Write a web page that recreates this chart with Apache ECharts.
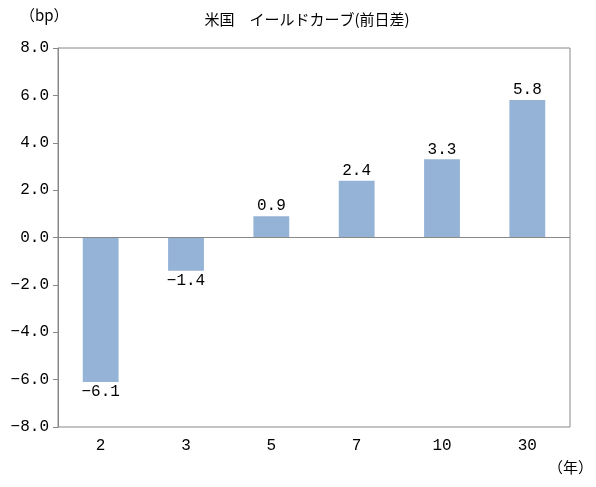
<!DOCTYPE html>
<html>
<head>
<meta charset="UTF-8">
<title>米国 イールドカーブ(前日差)</title>
<script type="text/javascript" src="https://cdn.jsdelivr.net/npm/echarts@6.0.0/dist/echarts.min.js"></script>
<style>
html, body { margin: 0; padding: 0; background: #fff; }
#chart { width: 596px; height: 487px; }
</style>
</head>
<body>
<div id="chart"></div>
<script type="text/javascript">
// 年限
var tenors = ["2", "3", "5", "7", "10", "30"];
// 前日差 (bp)
var changes = [-6.1, -1.4, 0.9, 2.4, 3.3, 5.8];
// y軸
var yMin = -8;
var yMax = 8;
var yStep = 2;

var FONT = '"Noto Sans CJK JP", "Noto Sans", sans-serif';
var NUM_FONT = '"Liberation Mono", "DejaVu Sans Mono", monospace';

// 数値表示 (マイナスは長いダッシュ)
function fmt(v) {
	var s = Math.abs(v).toFixed(1);
	return v < 0 ? "\u2212" + s : s;
}

var chart = echarts.init(document.getElementById("chart"));

var barData = changes.map(function (v) {
	return {
		value: v,
		label: { position: v < 0 ? "bottom" : "top" }
	};
});

var option = {
	animation: false,
	textStyle: { fontFamily: FONT },
	title: {
		text: "米国　イールドカーブ(前日差)",
		left: 302,
		textAlign: "center",
		top: 7,
		textStyle: { fontSize: 15, fontWeight: "normal", color: "#000", fontFamily: FONT }
	},
	graphic: [
		{ type: "text", left: 20, top: 8, style: { text: "（bp）", fontSize: 15, fill: "#000", fontFamily: FONT } },
		{ type: "text", left: 548, top: 460, style: { text: "（年）", fontSize: 15, fill: "#000", fontFamily: FONT } }
	],
	grid: {
		left: 58, right: 26, top: 48, bottom: 60,
		show: true, borderColor: "#888", borderWidth: 1
	},
	xAxis: {
		type: "category",
		data: tenors,
		axisLine: { show: false },
		axisTick: { show: false },
		axisLabel: { color: "#000", fontSize: 16, margin: 11, fontFamily: NUM_FONT }
	},
	yAxis: {
		type: "value",
		min: yMin, max: yMax, interval: yStep,
		axisLine: { show: true, lineStyle: { color: "#888" } },
		axisTick: { show: true, length: 5, lineStyle: { color: "#888" } },
		splitLine: { show: false },
		axisLabel: {
			color: "#000", fontSize: 16, margin: 9, fontFamily: NUM_FONT,
			formatter: function (v) { return fmt(v); }
		}
	},
	series: [{
		type: "bar",
		data: barData,
		barWidth: "42%",
		itemStyle: { color: "#95B3D7" },
		label: {
			show: true, color: "#000", fontSize: 16, distance: 2, fontFamily: NUM_FONT,
			formatter: function (p) { return fmt(p.value); }
		},
		markLine: {
			silent: true,
			symbol: "none",
			label: { show: false },
			lineStyle: { color: "#888", width: 1, type: "solid" },
			data: [{ yAxis: 0 }]
		}
	}]
};

chart.setOption(option);
</script>
</body>
</html>
